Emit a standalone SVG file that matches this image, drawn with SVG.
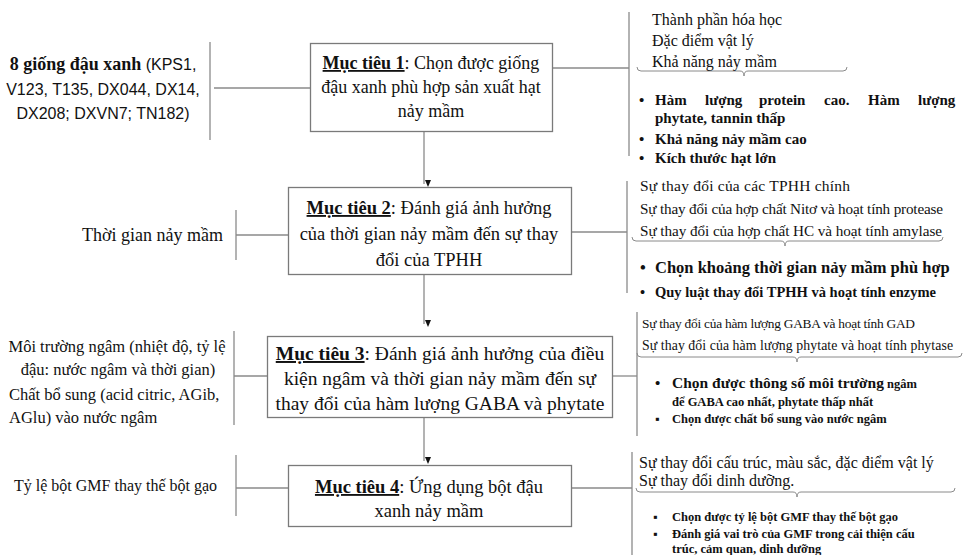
<svg xmlns="http://www.w3.org/2000/svg" width="970" height="555" viewBox="0 0 970 555">
<defs>
<style>
text{font-family:"Liberation Serif","Times New Roman",serif;fill:#111}
.sans{font-family:"Liberation Sans",Arial,sans-serif}
.b{font-weight:bold}
.u{font-weight:bold;text-decoration:underline}
.box{fill:#fff;stroke:#7a7a7a;stroke-width:1.3}
.ln{stroke:#8a8a8a;stroke-width:1.3;fill:none}
.br{stroke:#8a8a8a;stroke-width:1;fill:none}
.arr{stroke:#8a8a8a;stroke-width:1.3;fill:none;marker-end:url(#ah)}
</style>
<marker id="ah" viewBox="0 0 8 8" refX="4" refY="8" markerWidth="8" markerHeight="8" markerUnits="userSpaceOnUse" orient="auto-start-reverse">
<path d="M1,0 L7,0 L4,7 Z" fill="#111" transform="rotate(-90 4 4)"/>
</marker>
</defs>
<rect width="970" height="555" fill="#fff"/>

<g id="connectors">
<line class="ln" x1="210" y1="42" x2="210" y2="140"/>
<line class="ln" x1="214" y1="88" x2="310" y2="88"/>
<line class="ln" x1="553" y1="68" x2="629" y2="68"/>
<line class="ln" x1="629" y1="12" x2="629" y2="156"/>
<path class="br" d="M637,67 Q637,71 641,71 H740 Q744,71 744,76 Q744,71 748,71 H843 Q847,71 847,67"/>
<line class="arr" x1="424" y1="131" x2="424" y2="184"/>
<line class="ln" x1="236" y1="210" x2="236" y2="260"/>
<line class="ln" x1="236" y1="235" x2="288" y2="235"/>
<line class="ln" x1="572" y1="232" x2="627" y2="232"/>
<line class="ln" x1="627" y1="181" x2="627" y2="293"/>
<path class="br" d="M632,237 Q632,241 636,241 H781 Q785,241 785,246 Q785,241 789,241 H939 Q943,241 943,237"/>
<line class="arr" x1="424" y1="274" x2="424" y2="324"/>
<line class="ln" x1="234" y1="331" x2="234" y2="425"/>
<line class="ln" x1="234" y1="376" x2="267" y2="376"/>
<line class="ln" x1="613" y1="376" x2="637" y2="376"/>
<line class="ln" x1="637" y1="312" x2="637" y2="436"/>
<path class="br" d="M637,353 Q637,357 641,357 H793 Q797,357 797,362 Q797,357 801,357 H958 Q962,357 962,353"/>
<line class="arr" x1="424" y1="418" x2="424" y2="461"/>
<line class="ln" x1="236" y1="455" x2="236" y2="516"/>
<line class="ln" x1="236" y1="488" x2="288" y2="488"/>
<line class="ln" x1="572" y1="488" x2="632" y2="488"/>
<line class="ln" x1="632" y1="452" x2="632" y2="555"/>
<path class="br" d="M636,488 Q636,492 640,492 H793 Q797,492 797,497 Q797,492 801,492 H951 Q955,492 955,488"/>
</g>

<g id="input1">
<text x="103" y="70" text-anchor="middle"><tspan class="b" font-size="18">8 giống đậu xanh</tspan><tspan class="sans" font-size="16"> (KPS1,</tspan></text>
<text class="sans" x="103" y="95" font-size="16" text-anchor="middle">V123, T135, DX044, DX14,</text>
<text class="sans" x="103" y="119" font-size="16" text-anchor="middle">DX208; DXVN7; TN182)</text>
</g>

<g id="goal1">
<rect class="box" x="310.5" y="43.5" width="242" height="88"/>
<text x="431" y="69" font-size="18" text-anchor="middle"><tspan class="u">Mục tiêu 1</tspan>: Chọn được giống</text>
<text x="431" y="93" font-size="18" text-anchor="middle">đậu xanh phù hợp sản xuất hạt</text>
<text x="431" y="117" font-size="18" text-anchor="middle">nảy mầm</text>
</g>

<g id="result1" font-size="16">
<text x="652" y="25">Thành phần hóa học</text>
<text x="652" y="46">Đặc điểm vật lý</text>
<text x="652" y="67">Khả năng nảy mầm</text>
<g class="b" font-size="15">
<text x="639" y="105">•</text>
<text y="105"><tspan x="655">Hàm</tspan><tspan x="705">lượng</tspan><tspan x="759">protein</tspan><tspan x="824">cao.</tspan><tspan x="868">Hàm</tspan><tspan x="918">lượng</tspan></text>
<text x="655" y="123">phytate, tannin thấp</text>
<text x="639" y="144">•</text>
<text x="655" y="144">Khả năng nảy mầm cao</text>
<text x="639" y="163">•</text>
<text x="655" y="163">Kích thước hạt lớn</text>
</g>
</g>

<g id="input2">
<text x="82" y="241" font-size="18">Thời gian nảy mầm</text>
</g>

<g id="goal2">
<rect class="box" x="288.5" y="187.5" width="283" height="87"/>
<text x="429" y="214" font-size="18.5" text-anchor="middle"><tspan class="u">Mục tiêu 2</tspan>: Đánh giá ảnh hưởng</text>
<text x="429" y="240" font-size="18.5" text-anchor="middle">của thời gian nảy mầm đến sự thay</text>
<text x="429" y="266" font-size="18.5" text-anchor="middle">đổi của TPHH</text>
</g>

<g id="result2">
<text x="640" y="191" font-size="15.5" textLength="210">Sự thay đổi của các TPHH chính</text>
<text x="640" y="214" font-size="15.2" textLength="303">Sự thay đổi của hợp chất Nitơ và hoạt tính protease</text>
<text x="640" y="236" font-size="15.2" textLength="302">Sự thay đổi của hợp chất HC và hoạt tính amylase</text>
<text class="b" x="640" y="273" font-size="16.5">•</text>
<text class="b" x="655" y="273" font-size="16.5">Chọn khoảng thời gian nảy mầm phù hợp</text>
<text class="b" x="640" y="297" font-size="14.5">•</text>
<text class="b" x="655" y="297" font-size="14.5">Quy luật thay đổi TPHH và hoạt tính enzyme</text>
</g>

<g id="input3" font-size="16.5">
<text x="117" y="352" text-anchor="middle">Môi trường ngâm (nhiệt độ, tỷ lệ</text>
<text x="118" y="375" text-anchor="middle">đậu: nước ngâm và thời gian)</text>
<text x="9" y="400">Chất bổ sung (acid citric, AGib,</text>
<text x="9" y="423">AGlu) vào nước ngâm</text>
</g>

<g id="goal3">
<rect class="box" x="267.5" y="336.5" width="345" height="81"/>
<text x="440" y="360" font-size="19.5" text-anchor="middle"><tspan class="u">Mục tiêu 3</tspan>: Đánh giá ảnh hưởng của điều</text>
<text x="440" y="385" font-size="19.5" text-anchor="middle">kiện ngâm và thời gian nảy mầm đến sự</text>
<text x="440" y="410" font-size="19.5" text-anchor="middle">thay đổi của hàm lượng GABA và phytate</text>
</g>

<g id="result3">
<text x="642" y="328" font-size="13.4" textLength="273">Sự thay đổi của hàm lượng GABA và hoạt tính GAD</text>
<text x="642" y="350" font-size="13.8" textLength="311">Sự thay đổi của hàm lượng phytate và hoạt tính phytase</text>
<text class="b" x="655" y="388" font-size="15">•</text>
<text class="b" x="672" y="388"><tspan font-size="15.5">Chọn được thông số môi trường</tspan><tspan font-size="12.5"> ngâm</tspan></text>
<text class="b" x="672" y="406" font-size="12.5">để GABA cao nhất, phytate thấp nhất</text>
<text class="b" x="655" y="423" font-size="12.5">▪</text>
<text class="b" x="672" y="423" font-size="12.5">Chọn được chất bổ sung vào nước ngâm</text>
</g>

<g id="input4">
<text x="14" y="491" font-size="16">Tỷ lệ bột GMF thay thế bột gạo</text>
</g>

<g id="goal4">
<rect class="box" x="288.5" y="465.5" width="283" height="61"/>
<text x="429" y="493" font-size="18.5" text-anchor="middle"><tspan class="u">Mục tiêu 4</tspan>: Ứng dụng bột đậu</text>
<text x="429" y="517" font-size="18.5" text-anchor="middle">xanh nảy mầm</text>
</g>

<g id="result4">
<text x="639" y="468" font-size="16">Sự thay đổi cấu trúc, màu sắc, đặc điểm vật lý</text>
<text x="639" y="486" font-size="16">Sự thay đổi dinh dưỡng.</text>
<text class="b" x="653" y="521" font-size="12.5">▪</text>
<text class="b" x="672" y="521" font-size="12.5">Chọn được tỷ lệ bột GMF thay thế bột gạo</text>
<text class="b" x="653" y="538" font-size="12.5">▪</text>
<text class="b" x="672" y="538" font-size="12.5">Đánh giá vai trò của GMF trong cải thiện cấu</text>
<text class="b" x="672" y="553" font-size="12.5">trúc, cảm quan, dinh dưỡng</text>
</g>
</svg>
